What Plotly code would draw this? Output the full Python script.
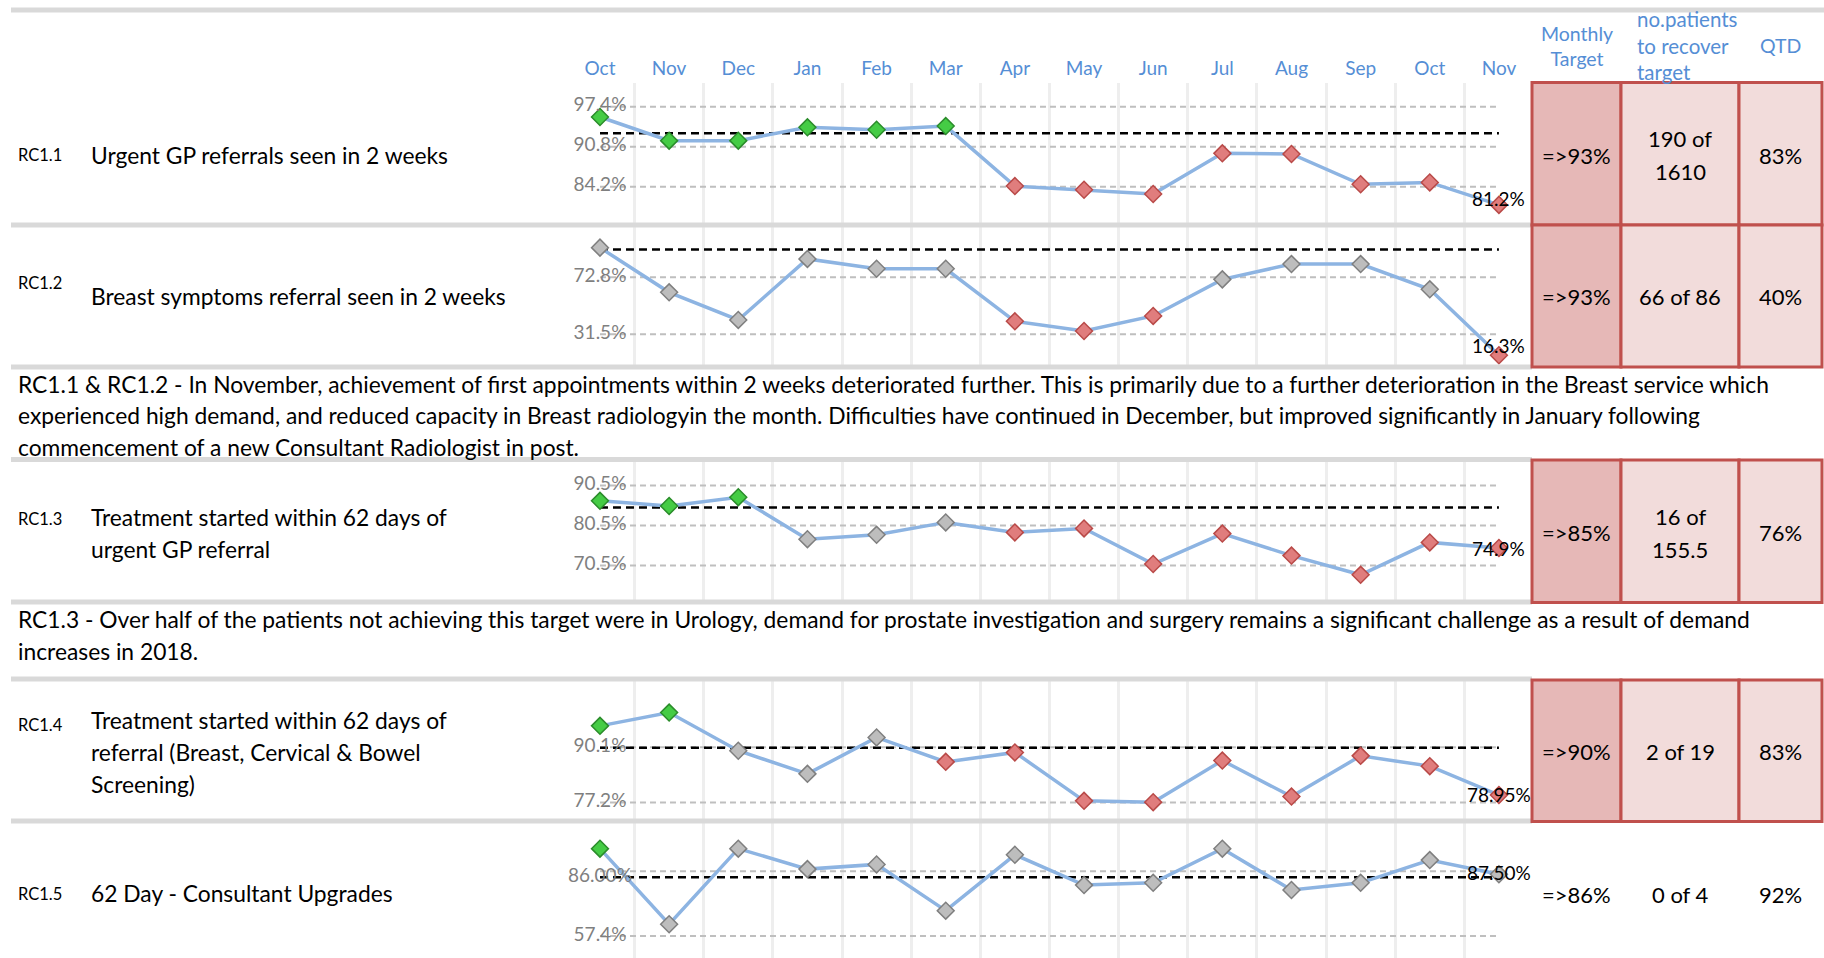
import plotly.graph_objects as go

# ---------------------------------------------------------------- data
months = ["Oct", "Nov", "Dec", "Jan", "Feb", "Mar", "Apr", "May", "Jun",
          "Jul", "Aug", "Sep", "Oct", "Nov"]

codes = ["RC1.1", "RC1.2", "RC1.3", "RC1.4", "RC1.5"]
titles = [
    ["Urgent GP referrals seen in 2 weeks"],
    ["Breast symptoms referral seen in 2 weeks"],
    ["Treatment started within 62 days of", "urgent GP referral"],
    ["Treatment started within 62 days of", "referral (Breast, Cervical & Bowel",
     "Screening)"],
    ["62 Day - Consultant Upgrades"],
]

# monthly performance (%)
rc11 = [95.7, 91.8, 91.8, 94.0, 93.6, 94.2, 84.3, 83.7, 83.0, 89.7, 89.6, 84.6, 84.9, 81.2]
rc12 = [94.3, 61.9, 41.9, 86.1, 79.0, 79.0, 40.9, 33.9, 44.8, 71.3, 82.4, 82.4, 64.1, 16.3]
rc13 = [86.7, 85.4, 87.6, 77.1, 78.2, 81.3, 78.8, 79.8, 70.9, 78.5, 73.0, 68.2, 76.3, 74.9]
rc14 = [95.1, 98.2, 89.3, 83.9, 92.4, 86.7, 88.9, 77.6, 77.3, 87.0, 78.6, 88.1, 85.7, 78.95]
rc15 = [100.0, 63.1, 100.0, 90.0, 92.3, 69.7, 97.0, 82.2, 83.3, 100.0, 79.8, 83.3, 94.4, 87.5]

# RAG status per month: G = achieved, R = not achieved, N = neutral
rag11 = "GGGGGGRRRRRRRR"
rag12 = "NNNNNNRRRNNNNR"
rag13 = "GGGNNNRRRRRRRR"
rag14 = "GGNNNRRRRRRRRR"
rag15 = "GNNNNNNNNNNNNN"

targets = [93, 93, 85, 90, 86]

# grey control lines
limits11 = [97.4, 90.8, 84.2]
limits12 = [72.8, 31.5]
limits13 = [90.5, 80.5, 70.5]
limits14 = [90.1, 77.2]
limits15 = [89.0, 57.4]

# value labels shown against the first month
marks11 = ["97.4%", "90.8%", "84.2%"]
marks12 = ["72.8%", "31.5%"]
marks13 = ["90.5%", "80.5%", "70.5%"]
marks14 = ["90.1%", "77.2%"]
marks15 = ["86.00%", "57.4%"]

# decimals used for the latest-month label
last_decimals = [1, 1, 1, 2, 2]

# summary table
head_cols = ["Monthly<br>Target", "no.patients<br>to recover<br>target", "QTD"]
monthly_target = ["=>93%", "=>93%", "=>85%", "=>90%", "=>86%"]
to_recover = [["190 of", "1610"], ["66 of 86"], ["16 of", "155.5"], ["2 of 19"], ["0 of 4"]]
qtd = ["83%", "40%", "76%", "83%", "92%"]

comment_a = [
    "RC1.1 & RC1.2 - In November, achievement of first appointments within 2 weeks deteriorated further. This is primarily due to a further deterioration in the Breast service which",
    "experienced high demand, and reduced capacity in Breast radiologyin the month. Difficulties have continued in December, but improved significantly in January following",
    "commencement of a new Consultant Radiologist in post.",
]
comment_b = [
    "RC1.3 - Over half of the patients not achieving this target were in Urology, demand for prostate investigation and surgery remains a significant challenge as a result of demand",
    "increases in 2018.",
]

series = [rc11, rc12, rc13, rc14, rc15]
rags = [rag11, rag12, rag13, rag14, rag15]
limits = [limits11, limits12, limits13, limits14, limits15]
marks = [marks11, marks12, marks13, marks14, marks15]

# ---------------------------------------------------------------- style / layout
W, H = 1824, 958
FONT = "Lato"
BLUE_TXT = "#558ed5"
GREY_TXT = "#7f7f7f"
LINE_BLUE = "#8db4e2"
RAG_FILL = {"G": "#45cc45", "R": "#e07d7d", "N": "#bdbdbd"}
RAG_EDGE = {"G": "#2b8c2b", "R": "#b94a48", "N": "#7f7f7f"}
CELL_DARK = "#e6b8b7"
CELL_LIGHT = "#f2dcdb"
CELL_EDGE = "#c0504d"
BAR_GREY = "#d9d9d9"

X_LEFT, X_RIGHT = 565.4, 1533.5          # pixel extent of the month axis
ROW_PLOTS = [                             # top px, bottom px, value range
    (83, 225, (77.88, 101.31)),
    (225, 367, (7.8, 110.7)),
    (460, 602, (61.4, 96.9)),
    (680, 821, (72.9, 105.8)),
    (821, 958, (46.6, 113.5)),
]
LAST_SHIFT = [6, 10, 0, 1, 2]             # nudge of the latest-month label (px)
CODE_Y = [155, 282.6, 518.7, 724.5, 894]
TITLE_Y = [[155], [296.5], [516.5, 549.1], [720.1, 751.5, 784.1], [893]]
CELL_Y = [[138.4, 171], [296.5], [516.5, 549.1], [751], [894]]
CELL_MID = [155, 296.5, 532.8, 751, 894]
COMMENT_A_Y = [383.8, 415.2, 446.6]
COMMENT_B_Y = [618.7, 651.3]
TABLE_ROWS = [(82.6, 225), (225, 367), (460, 602.5), (680, 821.5)]
TABLE_COLS = [(1532, 1621), (1621, 1739), (1739, 1822)]
BARS = [(10, 11, 1824), (225, 11, 1532), (367, 11, 1532), (459.5, 11, 1532),
        (602, 11, 1532), (679, 11, 1532), (821, 11, 1532)]


def fx(px):
    return px / W


def fy(py):
    return 1 - py / H


fig = go.Figure()
xs = list(range(len(months)))
layout = {}
ann = []

for i in range(5):
    n = "" if i == 0 else str(i + 1)
    xa, ya = "x" + n, "y" + n
    top, bottom, yr = ROW_PLOTS[i]

    layout["xaxis" + n] = dict(
        domain=[fx(X_LEFT), fx(X_RIGHT)], range=[-0.5, len(months) - 0.5],
        anchor=ya, tickmode="array", tickvals=xs, ticktext=months,
        showticklabels=(i == 0), side="top", ticks="", ticklabelstandoff=3,
        tickfont=dict(family=FONT, size=19, color=BLUE_TXT),
        showgrid=False, zeroline=False, showline=False, fixedrange=True,
        minor=dict(tickmode="array", tickvals=[k + 0.5 for k in xs[:-1]],
                   showgrid=True, gridcolor="#eeeeee", gridwidth=3, ticks=""),
    )
    layout["yaxis" + n] = dict(
        domain=[fy(bottom), fy(top)], range=list(yr), anchor=xa,
        showticklabels=False, showgrid=False, zeroline=False,
        showline=False, fixedrange=True,
    )

    # grey control lines
    for v in limits[i]:
        fig.add_trace(go.Scatter(
            x=[xs[0], xs[-1]], y=[v, v], mode="lines", xaxis=xa, yaxis=ya,
            line=dict(color="#bfbfbf", width=2, dash="6px,4px"),
            hoverinfo="skip", cliponaxis=False))
    # target line
    fig.add_trace(go.Scatter(
        x=[xs[0], xs[-1]], y=[targets[i], targets[i]], mode="lines",
        xaxis=xa, yaxis=ya, line=dict(color="black", width=2.5, dash="8px,5px"),
        hoverinfo="skip", cliponaxis=False))
    # monthly performance
    fig.add_trace(go.Scatter(
        x=xs, y=series[i], mode="lines+markers", xaxis=xa, yaxis=ya,
        line=dict(color=LINE_BLUE, width=3.5),
        marker=dict(symbol="diamond", size=13,
                    color=[RAG_FILL[s] for s in rags[i]],
                    line=dict(color=[RAG_EDGE[s] for s in rags[i]], width=1.5)),
        cliponaxis=False))
    # value labels on the first month
    fig.add_trace(go.Scatter(
        x=[xs[0]] * len(marks[i]), y=[float(t.rstrip("%")) for t in marks[i]],
        mode="text", text=marks[i], textposition="middle center",
        textfont=dict(family=FONT, size=19, color=GREY_TXT),
        xaxis=xa, yaxis=ya, hoverinfo="skip", cliponaxis=False))
    # latest month label
    last = series[i][-1]
    ann.append(dict(x=xs[-1], y=last, xref=xa, yref=ya, showarrow=False,
                    text=f"{last:.{last_decimals[i]}f}%", yshift=LAST_SHIFT[i],
                    xanchor="center", yanchor="middle",
                    font=dict(family=FONT, size=19, color="black")))

shapes = []
for yc, x0, x1 in BARS:
    shapes.append(dict(type="rect", xref="paper", yref="paper", layer="above",
                       x0=fx(x0), x1=fx(x1), y0=fy(yc + 2.5), y1=fy(yc - 2.5),
                       fillcolor=BAR_GREY, line=dict(width=0)))
for (r0, r1) in TABLE_ROWS:
    for c, (c0, c1) in enumerate(TABLE_COLS):
        shapes.append(dict(type="rect", xref="paper", yref="paper", layer="above",
                           x0=fx(c0), x1=fx(c1), y0=fy(r1), y1=fy(r0),
                           fillcolor=CELL_DARK if c == 0 else CELL_LIGHT,
                           line=dict(color=CELL_EDGE, width=3)))


def text(x, y, s, size, color="black", xanchor="left", align="left"):
    ann.append(dict(x=fx(x), y=fy(y), xref="paper", yref="paper", text=s,
                    showarrow=False, xanchor=xanchor, yanchor="middle",
                    align=align, font=dict(family=FONT, size=size, color=color)))


# table header
text(1577, 46.3, head_cols[0], 19.5, BLUE_TXT, "center", "center")
text(1635, 46, head_cols[1], 20.5, BLUE_TXT, "left", "left")
text(1780, 46, head_cols[2], 19.5, BLUE_TXT, "center", "center")

cols_x = [(a + b) / 2 for a, b in TABLE_COLS]
for i in range(5):
    text(16, CODE_Y[i], codes[i], 16.5)
    for line, y in zip(titles[i], TITLE_Y[i]):
        text(89, y, line, 22.8)
    text(cols_x[0], CELL_MID[i], monthly_target[i], 22, xanchor="center", align="center")
    for line, y in zip(to_recover[i], CELL_Y[i]):
        text(cols_x[1], y, line, 22, xanchor="center", align="center")
    text(cols_x[2], CELL_MID[i], qtd[i], 22, xanchor="center", align="center")

for line, y in zip(comment_a, COMMENT_A_Y):
    text(16, y, line, 22.8)
for line, y in zip(comment_b, COMMENT_B_Y):
    text(16, y, line, 22.8)

fig.update_layout(
    width=W, height=H, margin=dict(l=0, r=0, t=0, b=0),
    paper_bgcolor="white", plot_bgcolor="white", showlegend=False,
    shapes=shapes, annotations=ann, **layout)

fig.write_html("out.html")
